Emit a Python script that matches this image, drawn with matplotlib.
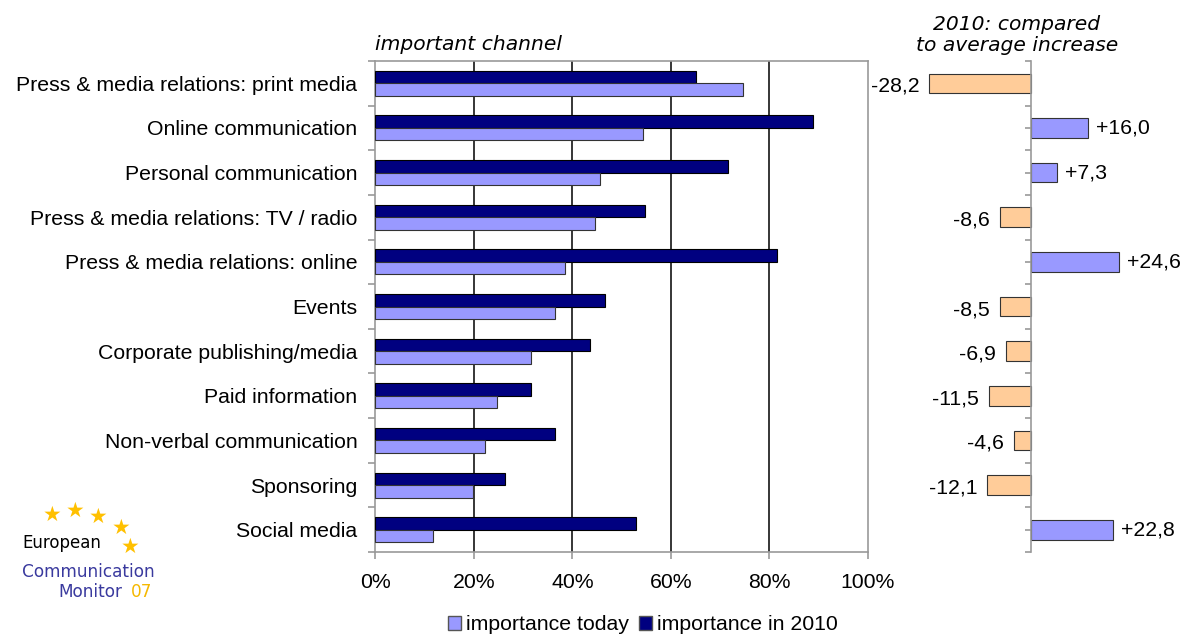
import matplotlib
matplotlib.use("Agg")
import matplotlib.pyplot as plt
import numpy as np

categories = ["Press & media relations: print media", "Online communication",
              "Personal communication", "Press & media relations: TV / radio",
              "Press & media relations: online", "Events", "Corporate publishing/media",
              "Paid information", "Non-verbal communication", "Sponsoring", "Social media"]
today = [74.6, 54.3, 45.7, 44.6, 38.5, 36.4, 31.7, 24.6, 22.3, 19.8, 11.6]
in_2010 = [65.2, 89.0, 71.7, 54.7, 81.6, 46.7, 43.6, 31.7, 36.4, 26.4, 52.9]
vs_average = [-28.2, 16.0, 7.3, -8.6, 24.6, -8.5, -6.9, -11.5, -4.6, -12.1, 22.8]
x_ticks = [0, 20, 40, 60, 80, 100]

LIGHT = "#9999FF"
DARK = "#000080"
ORANGE = "#FFCC99"
GRAY = "#999999"
FS = 15.3

plt.rcParams['font.family'] = ['Liberation Sans', 'DejaVu Sans']

fig = plt.figure(figsize=(11.86, 6.37), dpi=100)

y = np.arange(len(categories))
h = 0.28

ax = fig.add_axes([0.3166, 0.1334, 0.4149, 0.7708])
ax.barh(y - h / 2, in_2010, height=h, color=DARK, edgecolor="black", linewidth=0.8, zorder=3)
ax.barh(y + h / 2, today, height=h, color=LIGHT, edgecolor="#333333", linewidth=0.8, zorder=3)
ax.set_xlim(0, 100)
ax.set_ylim(len(categories) - 0.5, -0.5)
ax.set_xticks(x_ticks)
ax.set_xticklabels([f"{t}%" for t in x_ticks])
ax.set_yticks(y)
ax.set_yticklabels(categories)
ax.set_yticks(np.arange(len(categories) + 1) - 0.5, minor=True)
ax.tick_params(axis='y', which='major', length=0, pad=13, labelsize=FS)
ax.tick_params(axis='y', which='minor', length=5, color=GRAY, width=1.2)
ax.tick_params(axis='x', length=5, color=GRAY, width=1.2, pad=10, labelsize=FS)
for x in x_ticks[1:-1]:
    ax.axvline(x, color="black", linewidth=1.1, zorder=1)
for s in ax.spines.values():
    s.set_color(GRAY)
    s.set_linewidth(1.2)
ax.text(0, 1.015, "important channel", transform=ax.transAxes, fontsize=14.6,
        style='italic', family='DejaVu Sans', ha='left', va='bottom')

ax2 = fig.add_axes([0.7336, 0.1334, 0.2664, 0.7708])
colors = [LIGHT if v > 0 else ORANGE for v in vs_average]
ax2.barh(y, vs_average, height=0.44, color=colors, edgecolor="#333333", linewidth=0.8, zorder=3)
ax2.set_xlim(-44.6, 43.1)
ax2.set_ylim(len(categories) - 0.5, -0.5)
for s in ['top', 'right', 'bottom']:
    ax2.spines[s].set_visible(False)
ax2.spines['left'].set_position(('data', 0))
ax2.spines['left'].set_color(GRAY)
ax2.spines['left'].set_linewidth(1.2)
ax2.spines['left'].set_zorder(4)
ax2.set_xticks([])
ax2.set_yticks(np.arange(len(categories) + 1) - 0.5)
ax2.set_yticks(y, minor=True)
ax2.set_yticklabels([])
ax2.tick_params(axis='y', which='both', length=4, color=GRAY, width=1.2)
for yi, v in zip(y, vs_average):
    label = f"{v:+.1f}".replace(".", ",")
    if v < 0:
        ax2.annotate(label, (v, yi), xytext=(-10, -3), textcoords='offset pixels',
                     ha='right', va='center', fontsize=FS)
    else:
        ax2.annotate(label, (v, yi), xytext=(8, 0), textcoords='offset pixels',
                     ha='left', va='center', fontsize=FS)
ax2.text(-3.8, 1.012, "2010: compared\nto average increase", transform=ax2.get_xaxis_transform(),
         fontsize=14.6, style='italic', family='DejaVu Sans', ha='center', va='bottom',
         linespacing=1.15)

handles = [plt.Rectangle((0, 0), 1, 1, facecolor=LIGHT, edgecolor="#555555"),
           plt.Rectangle((0, 0), 1, 1, facecolor=DARK, edgecolor="#555555")]
fig.legend(handles, ["importance today", "importance in 2010"], loc='center',
           bbox_to_anchor=(643 / 1186, 1 - 625 / 637), ncol=2, frameon=False,
           fontsize=FS, handlelength=0.6, handleheight=0.6, handletextpad=0.25,
           columnspacing=0.45)

# logo
star_x = [51.7, 75, 97.7, 120.7, 130]
star_y = [515, 510.7, 517.3, 528.3, 546.7]
for sx, sy in zip(star_x, star_y):
    fig.text(sx / 1186, 1 - sy / 637, "★", color="#FFC000", fontsize=15,
             family='DejaVu Sans', ha='center', va='center')
fig.text(22 / 1186, 1 - 543 / 637, "European", color="black", fontsize=12,
         family='DejaVu Sans', ha='left', va='center')
fig.text(22 / 1186, 1 - 572 / 637, "Communication", color="#3A3A9E", fontsize=12.2,
         family='DejaVu Sans', ha='left', va='center')
fig.text(58 / 1186, 1 - 592 / 637, "Monitor", color="#3A3A9E", fontsize=12.2,
         family='DejaVu Sans', ha='left', va='center')
fig.text(131 / 1186, 1 - 592 / 637, "07", color="#F5B800", fontsize=12.2,
         family='DejaVu Sans', ha='left', va='center')

fig.savefig("out.png", dpi=100)
